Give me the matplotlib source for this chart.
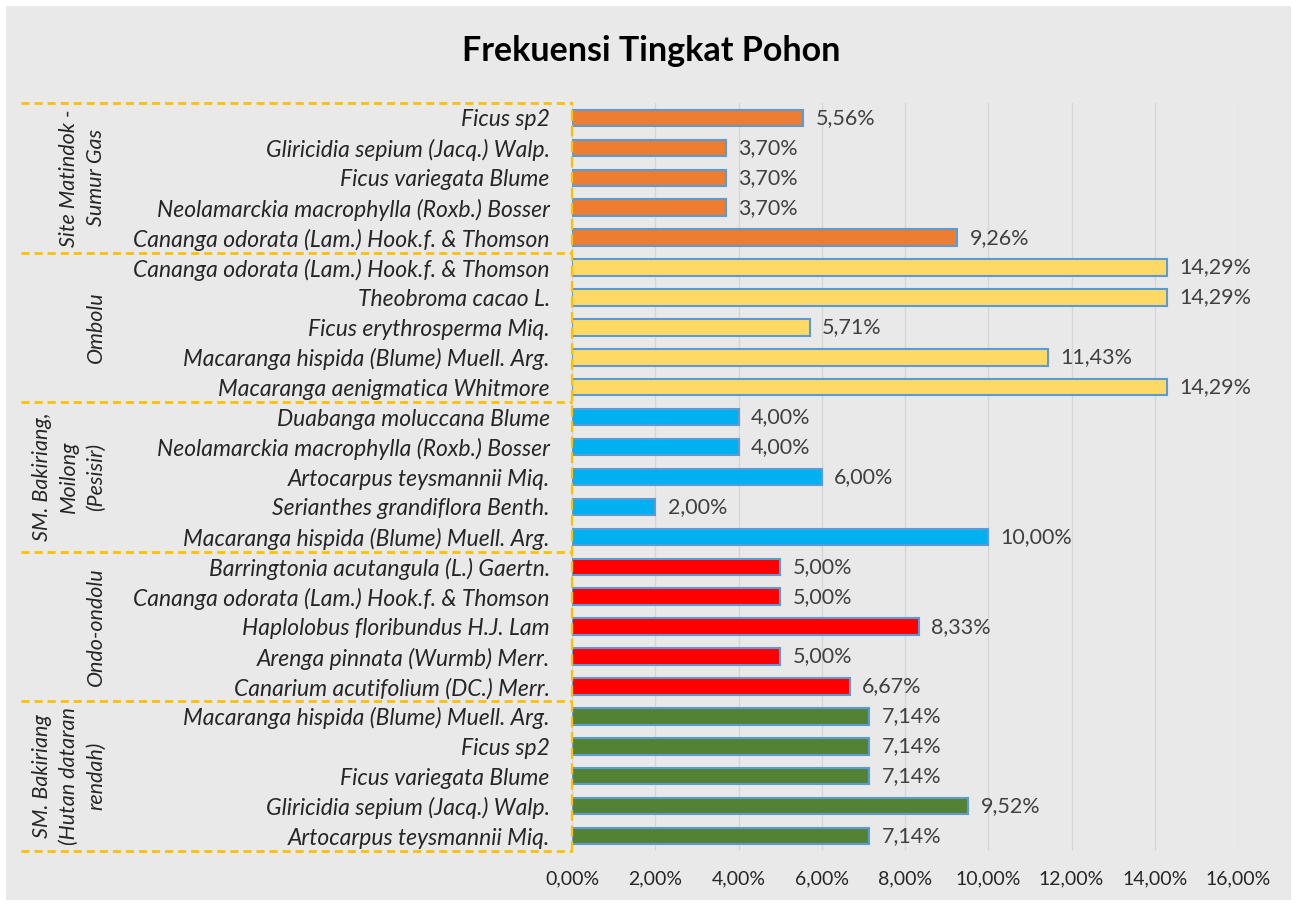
import matplotlib.pyplot as plt
import matplotlib.transforms as mtransforms
from matplotlib.patches import Rectangle

plt.rcParams['font.family'] = ['Lato', 'DejaVu Sans']

# data, top to bottom as in the chart
groups = ['Site Matindok -\nSumur Gas', 'Ombolu', 'SM. Bakiriang,\nMoilong\n(Pesisir)',
          'Ondo-ondolu', 'SM. Bakiriang\n(Hutan dataran\nrendah)']
group_colors = ['#ED7D31', '#FFD966', '#00B0F0', '#FF0000', '#548235']

species_matindok = ['Ficus sp2', 'Gliricidia sepium (Jacq.) Walp.', 'Ficus variegata Blume',
                    'Neolamarckia macrophylla (Roxb.) Bosser',
                    'Cananga odorata (Lam.) Hook.f. & Thomson']
values_matindok = [5.56, 3.70, 3.70, 3.70, 9.26]

species_ombolu = ['Cananga odorata (Lam.) Hook.f. & Thomson', 'Theobroma cacao L.',
                  'Ficus erythrosperma Miq.', 'Macaranga hispida (Blume) Muell. Arg.',
                  'Macaranga aenigmatica Whitmore']
values_ombolu = [14.29, 14.29, 5.71, 11.43, 14.29]

species_pesisir = ['Duabanga moluccana Blume', 'Neolamarckia macrophylla (Roxb.) Bosser',
                   'Artocarpus teysmannii Miq.', 'Serianthes grandiflora Benth.',
                   'Macaranga hispida (Blume) Muell. Arg.']
values_pesisir = [4.00, 4.00, 6.00, 2.00, 10.00]

species_ondo = ['Barringtonia acutangula (L.) Gaertn.', 'Cananga odorata (Lam.) Hook.f. & Thomson',
                'Haplolobus floribundus H.J. Lam', 'Arenga pinnata (Wurmb) Merr.',
                'Canarium acutifolium (DC.) Merr.']
values_ondo = [5.00, 5.00, 8.33, 5.00, 6.67]

species_hutan = ['Macaranga hispida (Blume) Muell. Arg.', 'Ficus sp2', 'Ficus variegata Blume',
                 'Gliricidia sepium (Jacq.) Walp.', 'Artocarpus teysmannii Miq.']
values_hutan = [7.14, 7.14, 7.14, 9.52, 7.14]

species_all = [species_matindok, species_ombolu, species_pesisir, species_ondo, species_hutan]
values_all = [values_matindok, values_ombolu, values_pesisir, values_ondo, values_hutan]

xticks = [0, 2, 4, 6, 8, 10, 12, 14, 16]

W, H = 1297, 906
fig = plt.figure(figsize=(W / 100, H / 100), dpi=100, facecolor='white')
bg = Rectangle((6 / W, 6 / H), 1 - 12 / W, 1 - 12 / H, transform=fig.transFigure,
               facecolor='#E9E9E9', edgecolor='none', zorder=-10)
fig.add_artist(bg)

ax = fig.add_axes([572 / W, 1 - 851 / H, (1238 - 572) / W, (851 - 103) / H])
ax.set_facecolor('none')

labels, row = [], 0
for g, (names, vals) in enumerate(zip(species_all, values_all)):
    for name, v in zip(names, vals):
        ax.barh(row, v, height=0.55, color=group_colors[g], edgecolor='#5B9BD5',
                linewidth=1.5, zorder=3)
        ax.text(v + 0.3, row, f'{v:.2f}%'.replace('.', ','), va='center', ha='left',
                fontsize=15.5, color='#404040', zorder=4)
        labels.append(name)
        row += 1

n = len(labels)
ax.set_ylim(n - 0.5, -0.5)
ax.set_xlim(0, 16)
ax.set_yticks(range(n))
ax.set_yticklabels(labels, fontsize=16.5, style='italic', color='#262626')
ax.set_xticks(xticks)
ax.set_xticklabels([f'{t:.2f}%'.replace('.', ',') for t in xticks], fontsize=14, color='#262626')
ax.tick_params(axis='y', length=0, pad=16)
ax.tick_params(axis='x', length=0, pad=14)
ax.grid(axis='x', color='#D6D6D6', linewidth=1, zorder=0)
for s in ['top', 'right', 'bottom']:
    ax.spines[s].set_visible(False)
ax.spines['left'].set_color('#FFC000')
ax.spines['left'].set_linewidth(1.6)
ax.spines['left'].set_linestyle((0, (4, 3)))
ax.spines['left'].set_zorder(5)

# group separators and labels
trans = mtransforms.blended_transform_factory(fig.transFigure, ax.transData)
for k in range(len(groups) + 1):
    y = k * 5 - 0.5
    ax.plot([21 / W, 572 / W], [y, y], transform=trans, color='#FFC000', lw=2,
            dashes=(2.9, 1.8), clip_on=False, zorder=5)
for g, name in enumerate(groups):
    ax.text(106 / W, g * 5 + 2, name, transform=trans, rotation=90, ha='right', va='center',
            multialignment='center', fontsize=15.5, style='italic', color='#262626',
            linespacing=1.45)

fig.text(651 / W, 1 - 51 / H, 'Frekuensi Tingkat Pohon', ha='center', va='center',
         fontsize=24.5, fontweight='bold', color='black')

fig.savefig('out.png', dpi=100, facecolor=fig.get_facecolor())
